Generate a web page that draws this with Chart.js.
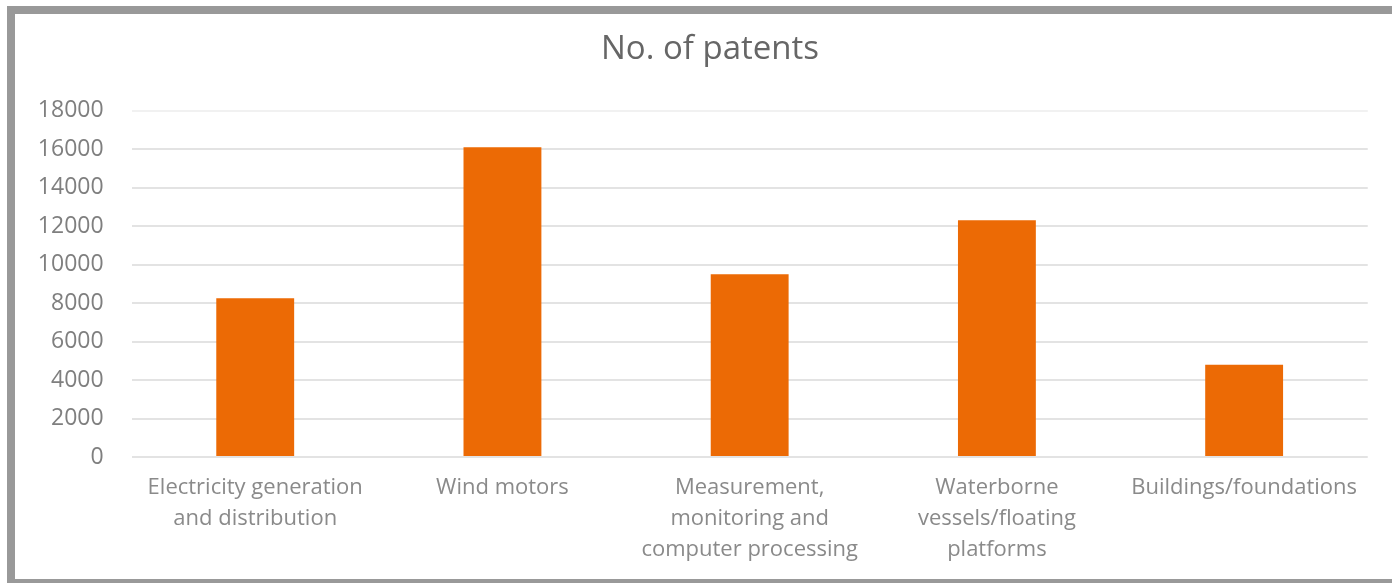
<!DOCTYPE html>
<html>
<head>
<meta charset="utf-8">
<title>No. of patents</title>
<script src="https://cdn.jsdelivr.net/npm/chart.js@4/dist/chart.umd.min.js"></script>
<style>
  html, body { margin: 0; padding: 0; background: #ffffff; overflow: hidden; }
  body { width: 1392px; height: 583px; position: relative; }
  .frame {
    position: absolute; left: 7px; top: 6px;
    width: 1400px; height: 565px;
    border-top: 8px solid #999999;
    border-left: 8px solid #999999;
    border-bottom: 8px solid #999999;
    background: #ffffff;
  }
  .frame canvas { position: absolute; left: 0; top: 0; }
</style>
</head>
<body>
<div class="frame"><canvas id="patents" width="1357" height="565"></canvas></div>
<script>
// Patent counts by technology field
const categories = [
  ['Electricity generation', 'and distribution'],
  'Wind motors',
  ['Measurement,', 'monitoring and', 'computer processing'],
  ['Waterborne', 'vessels/floating', 'platforms'],
  'Buildings/foundations'
];
const patentCounts = [8250, 16100, 9500, 12300, 4800];
const yTickValues = [0, 2000, 4000, 6000, 8000, 10000, 12000, 14000, 16000, 18000];

const FONT = '"Open Sans", "Noto Sans", "DejaVu Sans", sans-serif';

// Centre the title over the span from the value labels to the right edge
const titleOffset = {
  id: 'titleOffset',
  afterLayout(chart) {
    if (chart.titleBlock) chart.titleBlock.left = 33;
  }
};

new Chart(document.getElementById('patents'), {
  type: 'bar',
  data: {
    labels: categories,
    datasets: [{
      label: 'No. of patents',
      data: patentCounts,
      backgroundColor: '#EC6A05',
      borderWidth: 0,
      categoryPercentage: 1,
      barPercentage: 0.315
    }]
  },
  options: {
    responsive: false,
    animation: false,
    layout: { padding: { left: 0, right: 0, top: 0, bottom: 0 } },
    plugins: {
      legend: { display: false },
      tooltip: { enabled: false },
      title: {
        display: true,
        text: 'No. of patents',
        color: '#666666',
        font: { family: FONT, size: 33, weight: 'normal', lineHeight: 1.2 },
        padding: { top: 16, bottom: 41 }
      }
    },
    scales: {
      x: {
        grid: { display: false, drawTicks: false },
        border: { display: false },
        ticks: {
          color: '#8a8a8a',
          font: { family: FONT, size: 22, lineHeight: 1.41 },
          padding: 15,
          maxRotation: 0,
          autoSkip: false
        },
        afterFit: (scale) => { scale.height = 122; }
      },
      y: {
        min: 0,
        max: 18000,
        afterBuildTicks: (scale) => { scale.ticks = yTickValues.map(v => ({ value: v })); },
        grid: {
          drawTicks: false,
          lineWidth: 2,
          color: (ctx) => (ctx.tick && ctx.tick.value === 18000) ? '#f1f1f1' : '#e3e3e3'
        },
        border: { display: false },
        ticks: {
          color: '#7f7f7f',
          font: { family: FONT, size: 23 },
          padding: 28,
          callback: (value) => String(value)
        },
        afterFit: (scale) => { scale.width = 116.6; }
      }
    }
  },
  plugins: [titleOffset]
});
</script>
</body>
</html>
